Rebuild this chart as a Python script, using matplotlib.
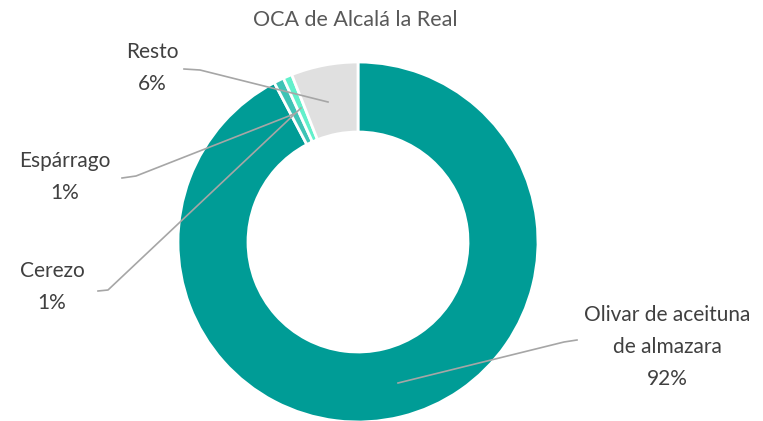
import matplotlib
matplotlib.use("Agg")
import matplotlib.pyplot as plt

# data
labels = ['Olivar de aceituna\nde almazara', 'Espárrago', 'Cerezo', 'Resto']
shares = [92.3, 0.9, 0.8, 6.0]
pct_text = ['92%', '1%', '1%', '6%']
colors = ['#009C96', '#3EC3B5', '#62F0CB', '#E0E0E0']

# label anchor (pixel) and leader line path (pixel), image coords from top
label_pos = [(667, 347), (65, 177), (52, 287), (152, 68)]
leaders = [
    [(577, 340), (564, 342), (398, 383)],
    [(122, 178), (136, 176), (294, 114)],
    [(98, 291), (108, 290), (301, 108)],
    [(184, 69), (200, 70), (328, 102)],
]

W, H = 763, 421
plt.rcParams['font.family'] = ['Lato', 'DejaVu Sans']

fig = plt.figure(figsize=(W / 100, H / 100), dpi=100)
ax = fig.add_axes([0, 0, 1, 1])

ax.pie(shares, colors=colors, startangle=90, counterclock=False,
       center=(358, H - 242), radius=180,
       wedgeprops=dict(width=70, edgecolor='white', linewidth=2))

for i, lab in enumerate(labels):
    pts = leaders[i]
    ax.plot([p[0] for p in pts], [H - p[1] for p in pts], color='#A6A6A6', lw=1.2)
    x, y = label_pos[i]
    ax.text(x, H - y, lab + '\n' + pct_text[i], ha='center', va='center',
            fontsize=15, color='#404040', linespacing=1.75)

ax.text(355, H - 20, 'OCA de Alcalá la Real', ha='center', va='center',
        fontsize=15.5, color='#595959')

ax.set_xlim(0, W)
ax.set_ylim(0, H)
ax.set_aspect('equal')
ax.axis('off')

fig.savefig('out.png', dpi=100)
